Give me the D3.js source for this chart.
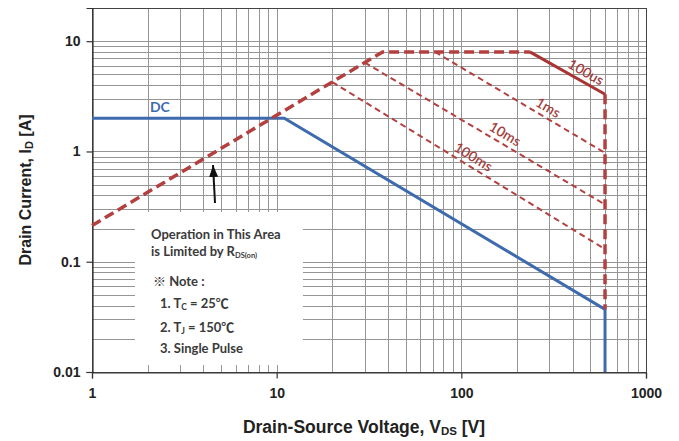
<!DOCTYPE html>
<html><head><meta charset="utf-8">
<script src="https://cdn.jsdelivr.net/npm/d3@7/dist/d3.min.js"></script>
<style>body{margin:0;background:#fff}svg{display:block}</style>
</head><body><svg id="c" width="679" height="441"></svg>
<script>
// ---- data ----
const xTickValues = [1, 10, 100, 1000];
const xTickLabels = ["1", "10", "100", "1000"];
const yTickValues = [0.01, 0.1, 1, 10];
const yTickLabels = ["0.01", "0.1", "1", "10"];

// DC limit (blue)
const dcV = [1, 11, 600, 600];
const dcI = [2, 2, 0.037, 0.01];
// RDS(on) limit + max current (thick dashed)
const boundV = [1, 37.5, 235];
const boundI = [0.213, 8, 8];
// 100us (solid)
const us100V = [235, 600];
const us100I = [8, 3.3];
// vertical BVdss edge (thick dashed)
const edgeV = [600, 600];
const edgeI = [3.3, 0.037];
// pulse lines (thin dashed)
const ms1V = [72, 600],  ms1I = [8, 0.97];
const ms10V = [30, 600], ms10I = [6.4, 0.33];
const ms100V = [20, 600], ms100I = [4.26, 0.13];

const pulseLabels = ["100us", "1ms", "10ms", "100ms"];
const pulseLabelV = [445, 277, 162, 109];

// ---- drawing ----
const svg = d3.select("#c");
const L = 92, R = 646, T = 8, B = 372;
const x = d3.scaleLog().domain([1, 1000]).range([L, R]);
const y = d3.scaleLog().domain([0.01, 20]).range([B, T]);

const gridX = [];
for (let d = 1; d < 1000; d *= 10) for (let k = 1; k < 10; k++) gridX.push(k * d);
gridX.push(1000);
const gridY = [];
for (let d = 0.01; d < 10; d *= 10) for (let k = 1; k < 10; k++) gridY.push(+(k * d).toPrecision(3));
gridY.push(10);

const grid = svg.append("g").attr("stroke", "#959595").attr("stroke-width", 1);
grid.selectAll(".gx").data(gridX).join("line")
  .attr("x1", d => Math.round(x(d)) + 0.5).attr("x2", d => Math.round(x(d)) + 0.5)
  .attr("y1", T).attr("y2", B);
grid.selectAll(".gy").data(gridY).join("line")
  .attr("y1", d => Math.round(y(d)) + 0.5).attr("y2", d => Math.round(y(d)) + 0.5)
  .attr("x1", L).attr("x2", R);

// frame
svg.append("rect").attr("x", L + 0.5).attr("y", T + 0.5).attr("width", R - L).attr("height", B - T)
  .attr("fill", "none").attr("stroke", "#444").attr("stroke-width", 1);

// white annotation box
svg.append("rect").attr("x", 135).attr("y", 212).attr("width", 168).attr("height", 153).attr("fill", "#fff");

// axes
const xAxis = d3.axisBottom(x).tickValues(xTickValues).tickFormat((d, i) => xTickLabels[i]).tickSize(6).tickPadding(10);
const yAxis = d3.axisLeft(y).tickValues(yTickValues).tickFormat((d, i) => yTickLabels[i]).tickSize(6).tickPadding(6);
const gx = svg.append("g").attr("transform", `translate(0,${B + 0.5})`).call(xAxis);
const gy = svg.append("g").attr("transform", `translate(${L + 0.5},0)`).call(yAxis);
[gx, gy].forEach(g => {
  g.select(".domain").attr("stroke", "#333").attr("stroke-width", 1.2);
  g.selectAll(".tick line").attr("stroke", "#333").attr("stroke-width", 1.2);
  g.selectAll(".tick text").attr("font-family", "'Liberation Sans', Arial, sans-serif")
    .attr("font-weight", "bold").attr("font-size", 14).attr("fill", "#222");
});

const line = d3.line().x(d => x(d[0])).y(d => y(d[1]));
const zip = (a, b) => a.map((v, i) => [v, b[i]]);
const red = "#b3403f";

// pulse lines thin dashed
[[ms1V, ms1I], [ms10V, ms10I], [ms100V, ms100I]].forEach(([v, i]) => {
  svg.append("path").attr("d", line(zip(v, i))).attr("fill", "none")
    .attr("stroke", red).attr("stroke-width", 2).attr("stroke-dasharray", "6,4");
});
// DC
svg.append("path").attr("d", line(zip(dcV, dcI))).attr("fill", "none")
  .attr("stroke", "#3e6bae").attr("stroke-width", 3);
// boundary thick dashed
svg.append("path").attr("d", line(zip(boundV, boundI))).attr("fill", "none")
  .attr("stroke", red).attr("stroke-width", 3.5).attr("stroke-dasharray", "10,5");
svg.append("path").attr("d", line(zip(edgeV, edgeI))).attr("fill", "none")
  .attr("stroke", red).attr("stroke-width", 3.5).attr("stroke-dasharray", "10,5");
svg.append("path").attr("d", line(zip(us100V, us100I))).attr("fill", "none")
  .attr("stroke", "#a83533").attr("stroke-width", 3);

// pulse labels
const pulseSeries = [[us100V, us100I], [ms1V, ms1I], [ms10V, ms10I], [ms100V, ms100I]];
pulseSeries.forEach(([v, i], k) => {
  const lv = pulseLabelV[k];
  const t = (Math.log(lv) - Math.log(v[0])) / (Math.log(v[1]) - Math.log(v[0]));
  const li = Math.exp(Math.log(i[0]) + t * (Math.log(i[1]) - Math.log(i[0])));
  const ang = Math.atan2(y(i[1]) - y(i[0]), x(v[1]) - x(v[0])) * 180 / Math.PI;
  svg.append("text").attr("transform", `translate(${x(lv)},${y(li)}) rotate(${ang})`)
    .attr("y", -5).attr("text-anchor", "middle")
    .attr("font-family", "Lato, 'Open Sans', sans-serif").attr("font-weight", 600).attr("font-size", 14)
    .attr("fill", "#a33d3c").text(pulseLabels[k]);
});

// DC label
svg.append("text").attr("x", x(2.33)).attr("y", y(2) - 6).attr("text-anchor", "middle")
  .attr("font-family", "Lato, sans-serif").attr("font-weight", "bold").attr("font-size", 14)
  .attr("fill", "#3e6bae").text("DC");

// arrow
svg.append("defs").append("marker").attr("id", "ah").attr("viewBox", "0 0 10 10")
  .attr("markerUnits", "userSpaceOnUse")
  .attr("refX", 10).attr("refY", 5).attr("markerWidth", 12).attr("markerHeight", 9)
  .attr("orient", "auto").attr("preserveAspectRatio", "none")
  .append("path").attr("d", "M0,0L10,5L0,10z").attr("fill", "#111");
svg.append("line").attr("x1", 215).attr("y1", 203).attr("x2", 213).attr("y2", 165)
  .attr("stroke", "#111").attr("stroke-width", 2).attr("marker-end", "url(#ah)");

// annotation text
const note = svg.append("g").attr("font-family", "Lato, 'Noto Sans CJK SC', sans-serif")
  .attr("font-weight", "bold").attr("font-size", 13).attr("fill", "#3a3a3a");
note.append("text").attr("x", 151).attr("y", 239).text("Operation in This Area");
const t2 = note.append("text").attr("x", 151).attr("y", 256);
t2.append("tspan").text("is Limited by R");
t2.append("tspan").attr("font-size", 7.5).attr("dy", 2).text("DS(on)");
note.append("text").attr("x", 153).attr("y", 286).text("※ Note :");
const t4 = note.append("text").attr("x", 160).attr("y", 308);
t4.append("tspan").text("1. T");
t4.append("tspan").attr("font-size", 8.5).attr("dy", 2).text("C");
t4.append("tspan").attr("dy", -2).text(" = 25℃");
const t5 = note.append("text").attr("x", 160).attr("y", 332);
t5.append("tspan").text("2. T");
t5.append("tspan").attr("font-size", 8.5).attr("dy", 2).text("J");
t5.append("tspan").attr("dy", -2).text(" = 150℃");
note.append("text").attr("x", 160).attr("y", 353).text("3. Single Pulse");

// axis titles
const tf = "'Liberation Sans', Arial, sans-serif";
const xt = svg.append("text").attr("x", 364).attr("y", 433).attr("text-anchor", "middle")
  .attr("font-family", tf).attr("font-weight", "bold").attr("font-size", 17.5).attr("fill", "#222");
xt.append("tspan").text("Drain-Source Voltage, V");
xt.append("tspan").attr("font-size", 11.5).attr("dy", 2).text("DS");
xt.append("tspan").attr("dy", -2).text(" [V]");
const yt = svg.append("text").attr("transform", "translate(31,190) rotate(-90)").attr("text-anchor", "middle")
  .attr("font-family", tf).attr("font-weight", "bold").attr("font-size", 16).attr("fill", "#222");
yt.append("tspan").text("Drain Current, I");
yt.append("tspan").attr("font-size", 11).attr("dy", 2).text("D");
yt.append("tspan").attr("dy", -2).text(" [A]");
</script></body></html>
